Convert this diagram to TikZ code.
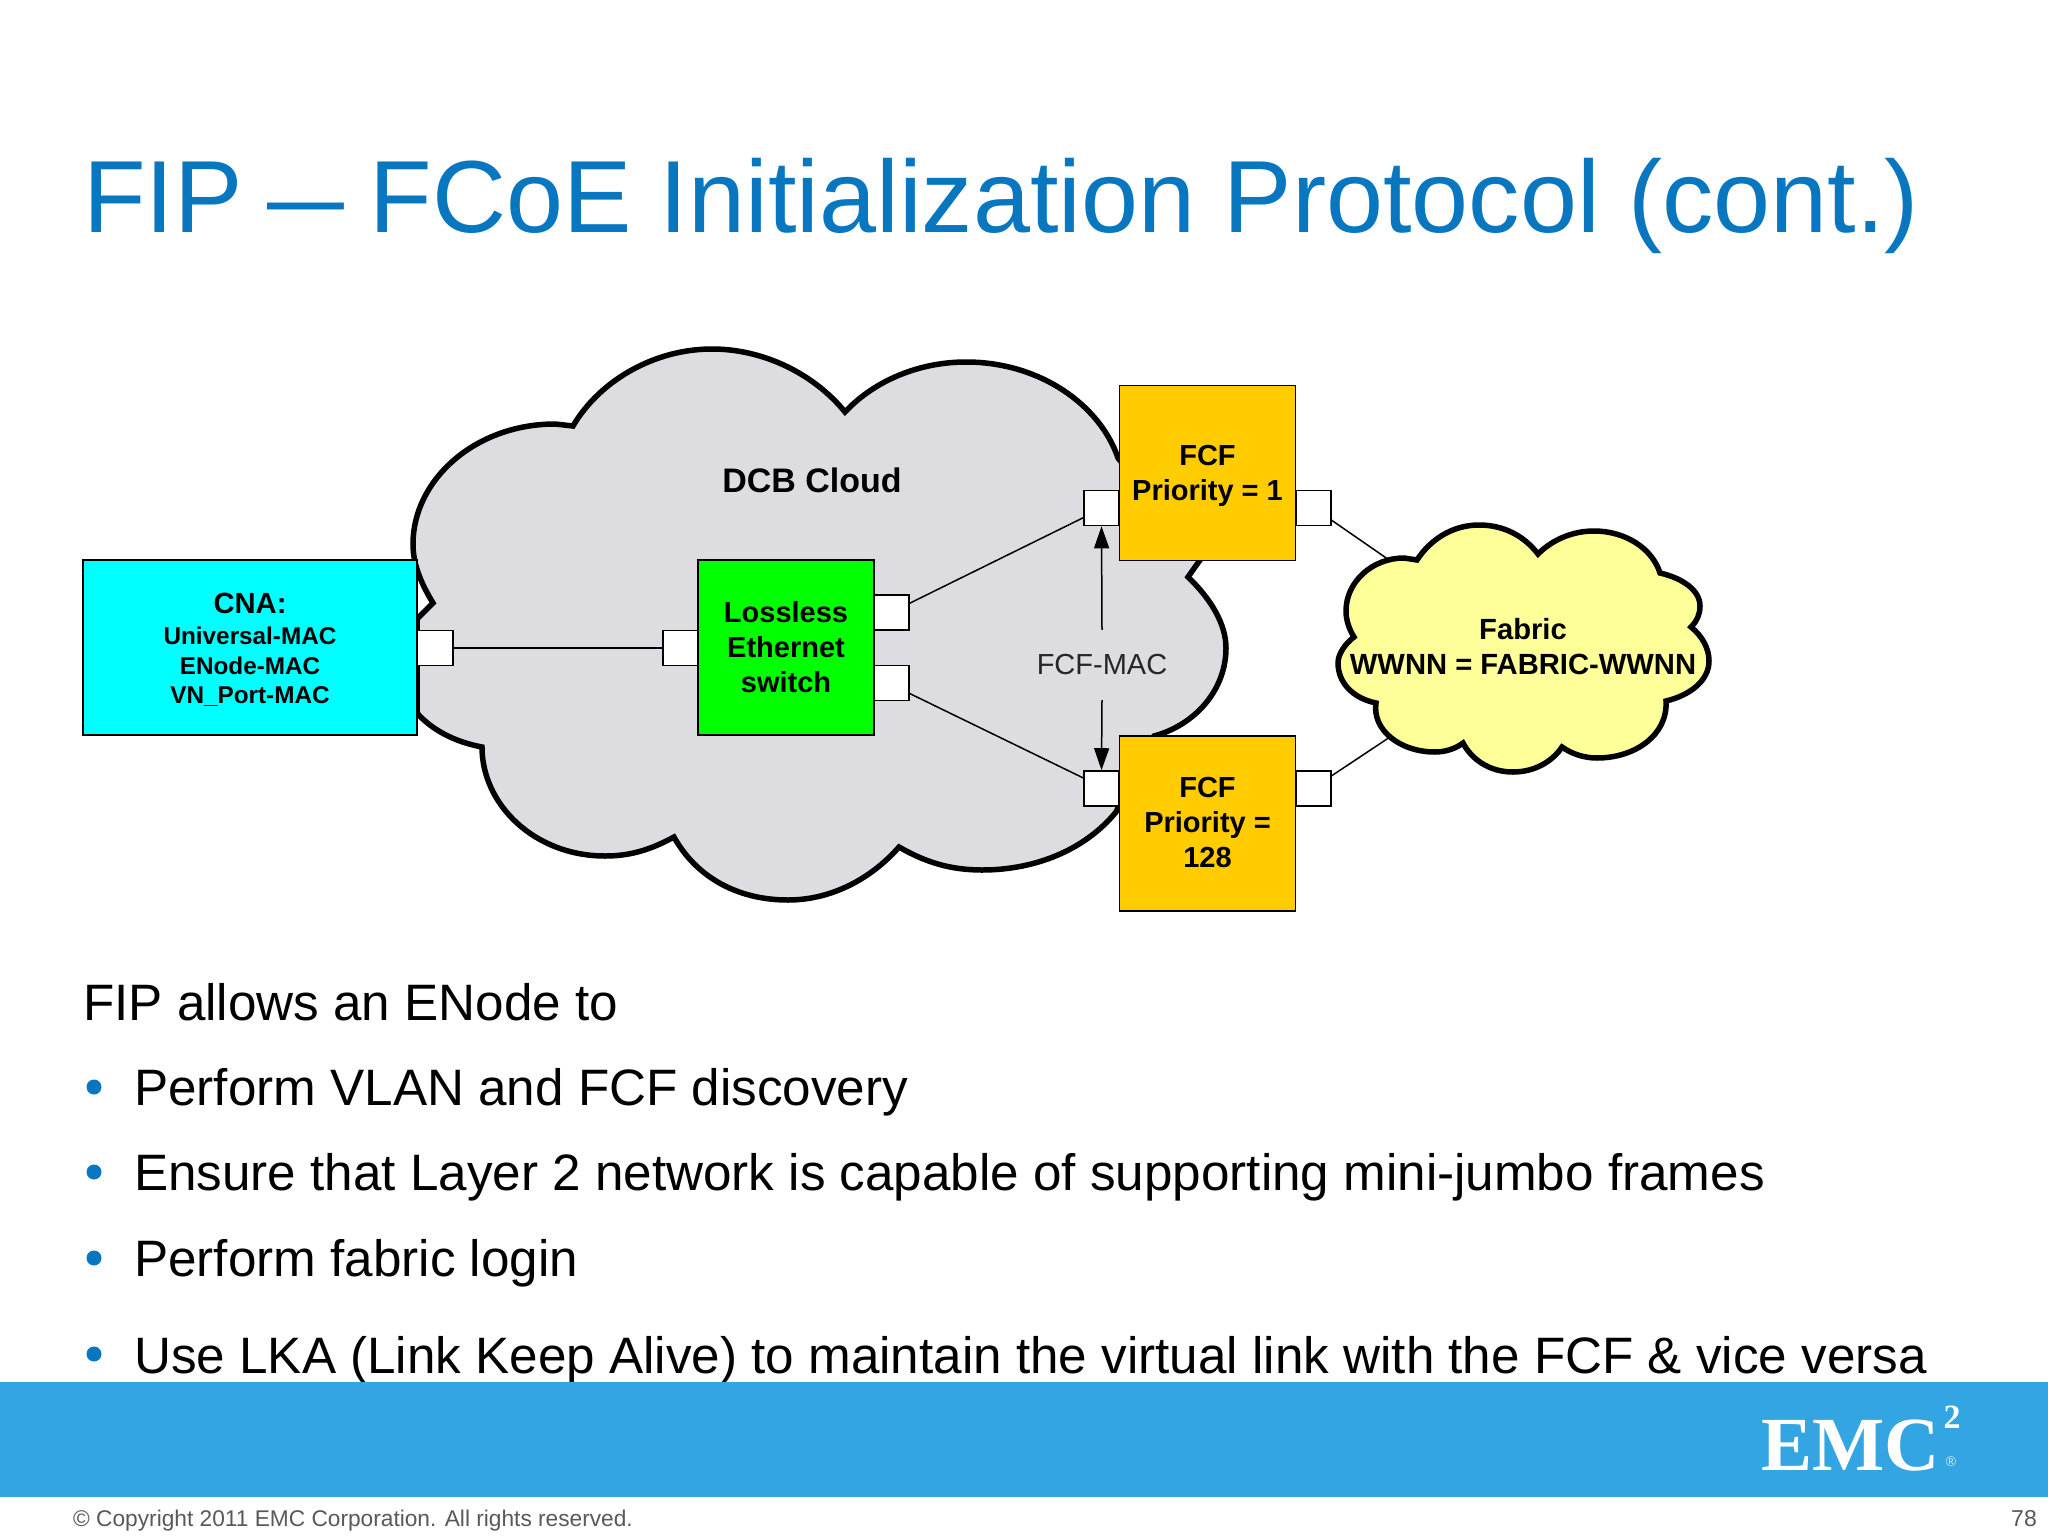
\documentclass[tikz,border=0pt]{standalone}
\usepackage{fontspec}
\setmainfont{Liberation Sans}
\newfontfamily\logofont{Liberation Serif}
\usetikzlibrary{arrows.meta}
\definecolor{titleblue}{HTML}{0877C0}
\definecolor{bandblue}{HTML}{33A5E3}
\definecolor{cloudgrey}{HTML}{DDDCE0}
\definecolor{cloudyellow}{HTML}{FFFF99}
\definecolor{fcfgold}{HTML}{FFCC00}
\definecolor{footgrey}{HTML}{595959}
\definecolor{cnacyan}{HTML}{00FFFF}
\definecolor{swgreen}{HTML}{00FF00}
\tikzset{
  boxnode/.style={draw=black,line width=1.6pt,inner sep=0pt,align=center,
    font=\fontsize{29}{35}\selectfont\bfseries},
  portnode/.style={draw=black,line width=1.6pt,fill=white,inner sep=0pt,
    minimum width=35pt,minimum height=35pt},
  cloudline/.style={draw=black,line width=5.5pt,line join=miter},
  wire/.style={draw=black,line width=1.5pt},
  labeltext/.style={inner sep=0pt,align=center,font=\fontsize{29.2}{35}\selectfont\bfseries},
  bodytext/.style={anchor=base west,inner sep=0pt,font=\fontsize{51.2}{60}\selectfont},
  bulletdot/.style={circle,fill=titleblue,inner sep=0pt,minimum size=15pt},
  dblhead/.style={draw=black,line width=1.5pt,-{Triangle[length=22pt,width=15pt]}}
}
\begin{document}
\begin{tikzpicture}[x=1pt,y=-1pt]
\useasboundingbox (0,0) rectangle (2048,1536);
\fill[white] (0,0) rectangle (2048,1536);
\node[anchor=base west,inner sep=0pt,text=titleblue,font=\fontsize{102.5}{110}\selectfont] (title) at (83,232) {FIP \kern-4pt\scalebox{.75}[1]{—}\kern-3pt{} FCoE Initialization Protocol (cont.)};

% DCB cloud
\path[cloudline,fill=cloudgrey]
 (433,603) .. controls (419,580) and (413,562) .. (413,544)
 .. controls (413,480) and (475,424) .. (555,424) -- (573,426)
 .. controls (600,380) and (655,349) .. (712,349)
 .. controls (765,349) and (815,375) .. (845,412)
 .. controls (875,380) and (920,362) .. (966,362)
 .. controls (1040,362) and (1100,405) .. (1118,458)
 -- (1200,560) -- (1188,577)
 .. controls (1212,600) and (1226,625) .. (1226,648)
 .. controls (1226,690) and (1195,725) .. (1154,736)
 -- (1116,812)
 .. controls (1085,850) and (1035,870) .. (982,870)
 .. controls (950,870) and (925,862) .. (899,847)
 .. controls (870,880) and (830,900) .. (788,900)
 .. controls (735,900) and (695,875) .. (674,837)
 .. controls (650,850) and (630,856) .. (605,856)
 .. controls (535,856) and (482,805) .. (482,747)
 .. controls (455,742) and (432,730) .. (417,713)
 -- (417,619) -- cycle;

\node[labeltext,font=\fontsize{34}{38}\selectfont\bfseries] (dcb) at (812,480) {DCB Cloud};

% ports
\node[portnode,minimum width=36pt] (pc) at (435,648) {};
\node[portnode,minimum width=35pt] (ps) at (680.5,648) {};
\node[portnode] (pg1) at (891.5,612.5) {};
\node[portnode] (pg2) at (891.5,683) {};
\node[portnode] (pf1) at (1101.5,508) {};
\node[portnode] (pr1) at (1313.5,508) {};
\node[portnode] (pf2) at (1101.5,788.5) {};
\node[portnode] (pr2) at (1313.5,788.5) {};

\coordinate (fab1) at (1392,562);
\coordinate (fab2) at (1390,737);

% connectors
\draw[wire] (pc.east) -- (ps.west);
\draw[wire] (pg1.27) -- (pf1.208);
\draw[wire] (pg2.-30) -- (pf2.150);
\draw[wire] (pr1.-34) -- (fab1);
\draw[wire] (pr2.35) -- (fab2);

% main boxes
\node[boxnode,fill=cnacyan,minimum width=334pt,minimum height=175pt] (cna) at (250,647.5) {};
\node[boxnode,fill=swgreen,minimum width=176pt,minimum height=175pt] (sw) at (786,647.5) {Lossless\\Ethernet\\switch};
\node[boxnode,fill=fcfgold,minimum width=176pt,minimum height=175pt] (fcf1) at (1207.5,473) {};
\node[boxnode,fill=fcfgold,minimum width=176pt,minimum height=175pt] (fcf2) at (1207.5,823.5) {};
\node[labeltext,font=\fontsize{29}{35}\selectfont\bfseries] (fcf1t) at (1207.5,476) {FCF\\Priority = 1};
\node[labeltext,font=\fontsize{29}{35}\selectfont\bfseries] (fcf2t) at (1207.5,823) {FCF\\Priority =\\128};
\node[labeltext] (cnat) at (250,603) {CNA:};
\node[labeltext,font=\fontsize{24.3}{29.5}\selectfont\bfseries] (cnal) at (250,667) {Universal-MAC\\ENode-MAC\\VN\_Port-MAC};

% FCF-MAC
\node[inner sep=0pt,minimum height=70pt,font=\fontsize{29}{34}\selectfont,text=black!85] (mac) at (1102,665) {FCF-MAC};
\draw[dblhead] (mac.north) -- (pf1.south);
\draw[dblhead] (mac.south) -- (pf2.north);

% Fabric cloud
\path[cloudline,fill=cloudyellow]
 (1417,560) .. controls (1430,540) and (1452,525) .. (1479,525)
 .. controls (1505,525) and (1525,537) .. (1538,554)
 .. controls (1552,540) and (1572,531) .. (1594,531)
 .. controls (1625,531) and (1652,548) .. (1660,573)
 .. controls (1682,578) and (1700,590) .. (1700,606)
 .. controls (1700,614) and (1697,621) .. (1691,627)
 .. controls (1702,636) and (1709,648) .. (1709,661)
 .. controls (1709,680) and (1691,695) .. (1666,701)
 .. controls (1668,735) and (1635,758) .. (1597,758)
 .. controls (1584,758) and (1572,754) .. (1562,747)
 .. controls (1552,762) and (1534,772) .. (1513,772)
 .. controls (1490,772) and (1472,760) .. (1463,743)
 .. controls (1455,749) and (1445,752) .. (1435,752)
 .. controls (1400,752) and (1372,730) .. (1376,703)
 .. controls (1352,698) and (1338,682) .. (1338,663)
 .. controls (1338,654) and (1345,644) .. (1354,637)
 .. controls (1349,629) and (1346,620) .. (1346,611)
 .. controls (1346,582) and (1372,558) .. (1404,558)
 -- cycle;
\node[labeltext] (fab) at (1523,647) {Fabric\\WWNN = FABRIC-WWNN};

% body
\node[bodytext] (b0) at (83,1020) {FIP allows an ENode to};
\node[bodytext] (b1) at (134,1105) {Perform VLAN and FCF discovery};
\node[bodytext] (b2) at (134,1190) {Ensure that Layer 2 network is capable of supporting mini-jumbo frames};
\node[bodytext] (b3) at (134,1276) {Perform fabric login};
\node[bodytext] (b4) at (134,1373) {Use LKA (Link Keep Alive) to maintain the virtual link with the FCF \& vice versa};
\node[bulletdot] (d1) at (94,1087) {};
\node[bulletdot] (d2) at (94,1172) {};
\node[bulletdot] (d3) at (94,1258) {};
\node[bulletdot] (d4) at (94,1354) {};

% band
\fill[bandblue] (0,1382) rectangle (2048,1497);
\node[anchor=base west,inner sep=0pt,text=white,font=\fontsize{76.5}{80}\selectfont\logofont\bfseries] (emc) at (1761,1470) {EMC};
\node[inner sep=0pt,text=white,font=\fontsize{34}{36}\selectfont\logofont\bfseries] (two) at (1952,1417) {2};
\node[inner sep=0pt,text=white!80!bandblue,font=\fontsize{14}{15}\selectfont] (reg) at (1951,1462) {®};

% footer
\node[anchor=base west,inner sep=0pt,text=footgrey,font=\fontsize{22.7}{26}\selectfont] (copy) at (73,1526) {© Copyright 2011 EMC Corporation. All rights reserved.};
\node[anchor=base east,inner sep=0pt,text=footgrey,font=\fontsize{23}{26}\selectfont] (num) at (2037,1526) {78};
\end{tikzpicture}
\end{document}
